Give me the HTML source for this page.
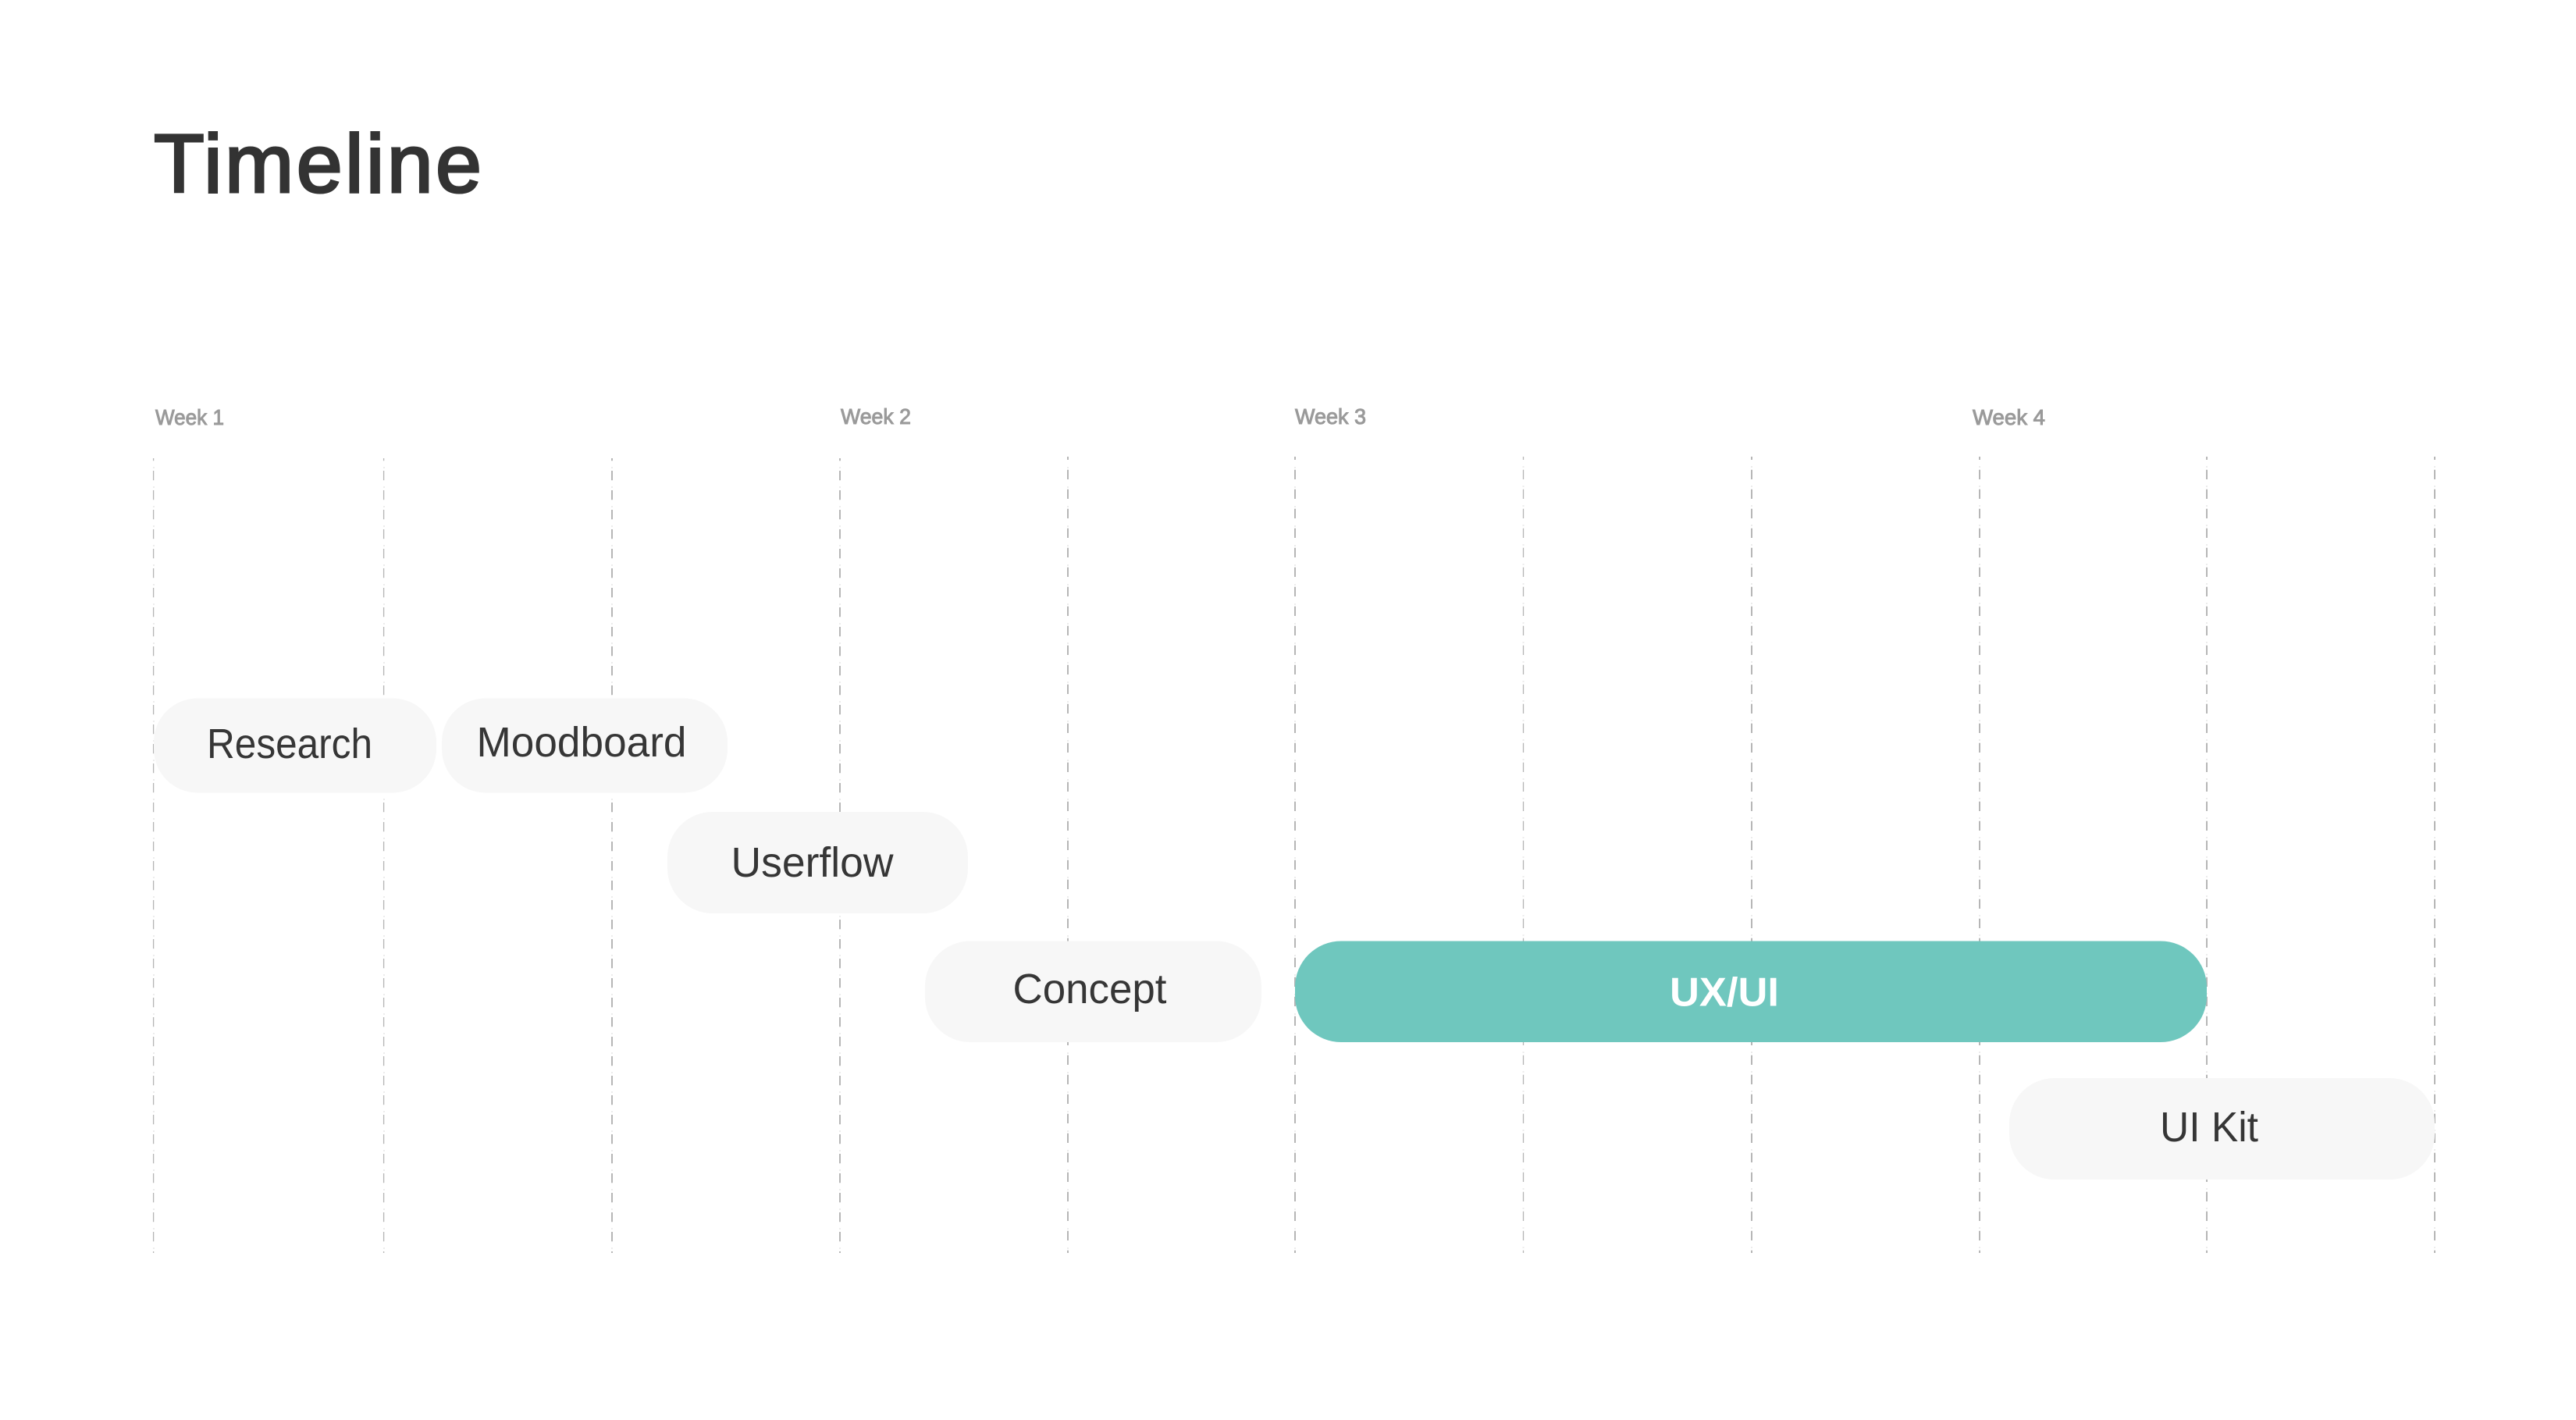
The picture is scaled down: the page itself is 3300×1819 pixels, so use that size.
<!DOCTYPE html>
<html>
<head>
<meta charset="utf-8">
<style>
html,body{margin:0;padding:0;background:#fff;width:3300px;height:1819px;overflow:hidden}
svg{display:block}
text{font-family:"Liberation Sans",sans-serif}
.w{font-size:28px;fill:#9a9a9a;stroke:#9a9a9a;stroke-width:1px}
.p{font-size:54px;fill:#363636}
</style>
</head>
<body>
<svg width="3300" height="1819" viewBox="0 0 3300 1819" xmlns="http://www.w3.org/2000/svg">
<rect width="3300" height="1819" fill="#fff"/>

<g fill="none" stroke-linecap="butt">
  <!-- faint ringing dots -->
  <g stroke="#ececec" stroke-width="2" stroke-dasharray="2 23">
    <line x1="197" y1="598" x2="197" y2="1600"/>
    <line x1="492" y1="598" x2="492" y2="1600"/>
    <line x1="784" y1="598" x2="784" y2="1600"/>
    <line x1="1076" y1="598" x2="1076" y2="1600"/>
    <line x1="1368" y1="598" x2="1368" y2="1600"/>
    <line x1="1659" y1="598" x2="1659" y2="1600"/>
    <line x1="1951.5" y1="597" x2="1951.5" y2="1600"/>
    <line x1="2244" y1="597" x2="2244" y2="1600"/>
    <line x1="2536" y1="597" x2="2536" y2="1600"/>
    <line x1="2827" y1="597" x2="2827" y2="1600"/>
    <line x1="3119" y1="597" x2="3119" y2="1600"/>
  </g>
  <!-- light thin lines -->
  <g stroke="#b4b4b4" stroke-width="1.3" stroke-dasharray="12.3 12.7" stroke-dashoffset="9">
    <line x1="196.6" y1="587" x2="196.6" y2="1605"/>
    <line x1="491.6" y1="587" x2="491.6" y2="1605"/>
  </g>
  <line x1="1951.5" y1="585" x2="1951.5" y2="1605" stroke="#b4b4b4" stroke-width="1.3" stroke-dasharray="12.3 12.7" stroke-dashoffset="8.3"/>
  <!-- darker lines -->
  <g stroke="#b6b6b6" stroke-width="2" stroke-dasharray="12.3 12.7" stroke-dashoffset="9">
    <line x1="784" y1="587" x2="784" y2="1605"/>
    <line x1="1076" y1="587" x2="1076" y2="1605"/>
  </g>
  <g stroke="#b6b6b6" stroke-width="2" stroke-dasharray="12.3 12.7" stroke-dashoffset="8.3">
    <line x1="1368" y1="585" x2="1368" y2="1605"/>
    <line x1="1659" y1="585" x2="1659" y2="1605"/>
    <line x1="2244" y1="585" x2="2244" y2="1605"/>
    <line x1="2536" y1="585" x2="2536" y2="1605"/>
    <line x1="2827" y1="585" x2="2827" y2="1605"/>
    <line x1="3119" y1="585" x2="3119" y2="1605"/>
  </g>
</g>

<text x="197" y="246" font-size="106" fill="#333" stroke="#333" stroke-width="3" textLength="420" lengthAdjust="spacing">Timeline</text>

<text class="w" x="199" y="544" textLength="88" lengthAdjust="spacingAndGlyphs">Week 1</text>
<text class="w" x="1077" y="543" textLength="90" lengthAdjust="spacingAndGlyphs">Week 2</text>
<text class="w" x="1659" y="543" textLength="91" lengthAdjust="spacingAndGlyphs">Week 3</text>
<text class="w" x="2527" y="544" textLength="93" lengthAdjust="spacingAndGlyphs">Week 4</text>

<g fill="#f7f7f7">
  <rect x="197" y="894.5" width="362" height="121" rx="56" ry="56"/>
  <rect x="566" y="894.5" width="366" height="121" rx="56" ry="56"/>
  <rect x="855" y="1040" width="385" height="130" rx="58" ry="58"/>
  <rect x="1185" y="1205.5" width="431" height="129.5" rx="58" ry="58"/>
  <rect x="2574" y="1381" width="545" height="130" rx="58" ry="58"/>
</g>
<rect x="1659" y="1205.5" width="1168" height="129.5" rx="59" ry="59" fill="#6fc7be"/>

<text class="p" x="265" y="971" textLength="212" lengthAdjust="spacingAndGlyphs">Research</text>
<text class="p" x="610.5" y="969" textLength="269" lengthAdjust="spacingAndGlyphs">Moodboard</text>
<text class="p" x="936.5" y="1123" textLength="208" lengthAdjust="spacingAndGlyphs">Userflow</text>
<text class="p" x="1297.5" y="1285" textLength="197" lengthAdjust="spacingAndGlyphs">Concept</text>
<text x="2139" y="1288.5" font-size="52" font-weight="700" fill="#fff" textLength="140" lengthAdjust="spacingAndGlyphs">UX/UI</text>
<text class="p" x="2767" y="1462" textLength="126" lengthAdjust="spacingAndGlyphs">UI Kit</text>
</svg>
</body>
</html>
